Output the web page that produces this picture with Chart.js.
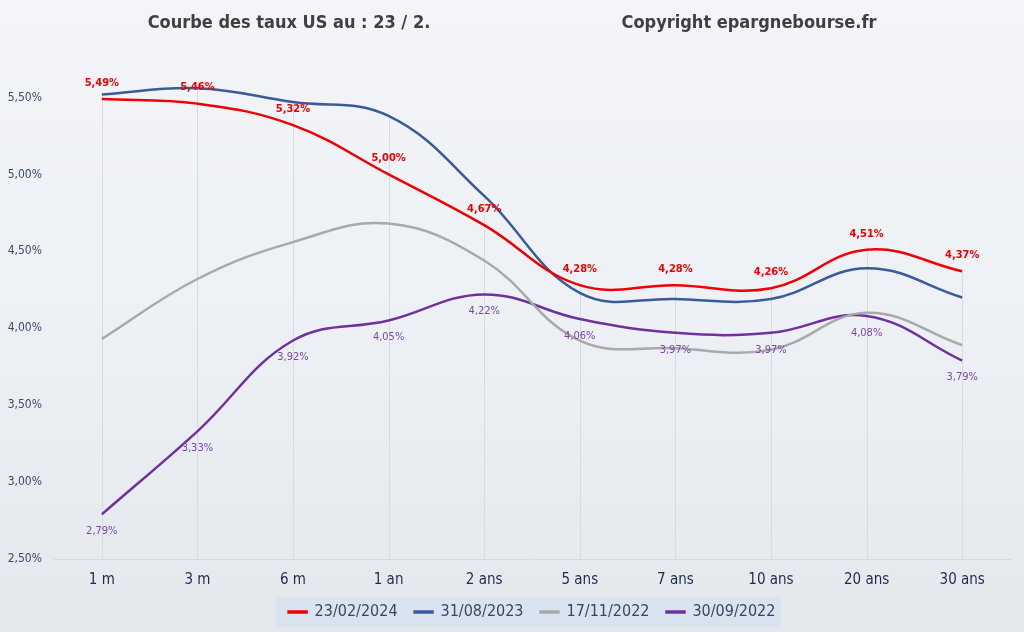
<!DOCTYPE html>
<html>
<head>
<meta charset="utf-8">
<script src="https://cdn.jsdelivr.net/npm/chart.js"></script>
<style>
  html, body { margin: 0; padding: 0; background: #eceff3; }
  #wrap { width: 1024px; height: 632px; }
</style>
</head>
<body>
<div id="wrap"><canvas id="chart" width="1024" height="632"></canvas></div>
<script>
// Courbe des taux US
const categories = ['1 m', '3 m', '6 m', '1 an', '2 ans', '5 ans', '7 ans', '10 ans', '20 ans', '30 ans'];
const seriesNames = ['23/02/2024', '31/08/2023', '17/11/2022', '30/09/2022'];
const taux20240223 = [5.49, 5.46, 5.32, 5.00, 4.67, 4.28, 4.28, 4.26, 4.51, 4.37];
const taux20230831 = [5.52, 5.56, 5.47, 5.38, 4.86, 4.23, 4.19, 4.19, 4.39, 4.20];
const taux20221117 = [3.93, 4.32, 4.56, 4.68, 4.44, 3.92, 3.87, 3.86, 4.10, 3.89];
const taux20220930 = [2.79, 3.33, 3.92, 4.05, 4.22, 4.06, 3.97, 3.97, 4.08, 3.79];
const yTicks = [2.5, 3.0, 3.5, 4.0, 4.5, 5.0, 5.5];
const titleLeft = 'Courbe des taux US au : 23 / 2.';
const titleRight = 'Copyright epargnebourse.fr';

const FONT = "'Liberation Sans Narrow', 'DejaVu Sans Condensed', 'Open Sans', sans-serif";

function pct(v) {
    return v.toFixed(2).replace('.', ',') + '%';
}

// fond + titres + cadre de la légende
const backgroundPlugin = {
    id: 'background',
    beforeDraw(chart) {
        const ctx = chart.ctx;
        const g = ctx.createLinearGradient(0, 0, 0, chart.height);
        g.addColorStop(0, '#f3f5f8');
        g.addColorStop(0.5, '#edf0f4');
        g.addColorStop(1, '#e4e8ed');
        ctx.save();
        ctx.fillStyle = g;
        ctx.fillRect(0, 0, chart.width, chart.height);

        ctx.fillStyle = '#404040';
        ctx.font = 'bold 18px ' + FONT;
        ctx.textAlign = 'center';
        ctx.textBaseline = 'middle';
        ctx.fillText(titleLeft, 289, 23);
        ctx.fillText(titleRight, 749, 23);

        const boxes = chart.legend && chart.legend.legendHitBoxes;
        if (boxes && boxes.length) {
            const left = Math.min(...boxes.map(b => b.left)) - 13;
            const right = Math.max(...boxes.map(b => b.left + b.width)) + 6;
            const mid = boxes[0].top + boxes[0].height / 2;
            ctx.fillStyle = 'rgba(214, 226, 240, 0.75)';
            ctx.fillRect(left, mid - 15, right - left, 30);
        }
        ctx.restore();
    }
};

// lignes de projection verticales
const dropLinesPlugin = {
    id: 'dropLines',
    beforeDatasetsDraw(chart) {
        const ctx = chart.ctx;
        const bottom = chart.chartArea.bottom;
        ctx.save();
        ctx.strokeStyle = '#d8dbe0';
        ctx.lineWidth = 1;
        categories.forEach((c, i) => {
            let top = bottom;
            chart.data.datasets.forEach((ds, d) => {
                const pt = chart.getDatasetMeta(d).data[i];
                if (pt && pt.y < top) top = pt.y;
            });
            const x = Math.round(chart.getDatasetMeta(0).data[i].x) + 0.5;
            ctx.beginPath();
            ctx.moveTo(x, top);
            ctx.lineTo(x, bottom);
            ctx.stroke();
        });
        ctx.restore();
    }
};

// étiquettes de valeurs (séries 0 et 3)
const valueLabelsPlugin = {
    id: 'valueLabels',
    afterDatasetsDraw(chart) {
        const ctx = chart.ctx;
        ctx.save();
        ctx.textAlign = 'center';
        ctx.textBaseline = 'middle';
        chart.getDatasetMeta(0).data.forEach((pt, i) => {
            ctx.fillStyle = '#ee0000';
            ctx.font = 'bold 11px ' + FONT;
            ctx.fillText(pct(taux20240223[i]), pt.x, pt.y - 16);
        });
        chart.getDatasetMeta(3).data.forEach((pt, i) => {
            ctx.fillStyle = '#7a48ad';
            ctx.font = '11px ' + FONT;
            ctx.fillText(pct(taux20220930[i]), pt.x, pt.y + 17);
        });
        ctx.restore();
    }
};

function serie(label, data, color) {
    return {
        label: label,
        data: data,
        borderColor: color,
        backgroundColor: color,
        borderWidth: 2.5,
        pointRadius: 0,
        tension: 0.4,
        fill: false
    };
}

new Chart(document.getElementById('chart').getContext('2d'), {
    type: 'line',
    data: {
        labels: categories,
        datasets: [
            serie(seriesNames[0], taux20240223, '#f00000'),
            serie(seriesNames[1], taux20230831, '#3a5b99'),
            serie(seriesNames[2], taux20221117, '#a9a9a9'),
            serie(seriesNames[3], taux20220930, '#7030a0')
        ]
    },
    options: {
        responsive: false,
        devicePixelRatio: 1,
        animation: false,
        layout: { padding: { top: 59, right: 14, bottom: 2, left: 0 } },
        plugins: {
            title: { display: false },
            tooltip: { enabled: false },
            legend: {
                position: 'bottom',
                fullSize: false,
                labels: {
                    boxWidth: 18,
                    boxHeight: 1,
                    padding: 17,
                    color: '#3b4560',
                    font: { size: 16, family: FONT }
                }
            }
        },
        scales: {
            x: {
                offset: true,
                grid: { display: false, drawTicks: false },
                border: { display: true, color: '#d5d8dd' },
                ticks: { color: '#1f2b4d', padding: 12, font: { size: 15, family: FONT } },
                afterFit(scale) { scale.height = 28; }
            },
            y: {
                min: 2.5,
                max: 5.75,
                grid: { display: false, drawTicks: false },
                border: { display: false },
                afterBuildTicks(scale) {
                    scale.ticks = yTicks.map(v => ({ value: v }));
                },
                ticks: {
                    color: '#3b4a6b',
                    padding: 12,
                    font: { size: 12, family: FONT },
                    callback: v => pct(v)
                },
                afterFit(scale) { scale.width = 54; }
            }
        }
    },
    plugins: [backgroundPlugin, dropLinesPlugin, valueLabelsPlugin]
});
</script>
</body>
</html>
